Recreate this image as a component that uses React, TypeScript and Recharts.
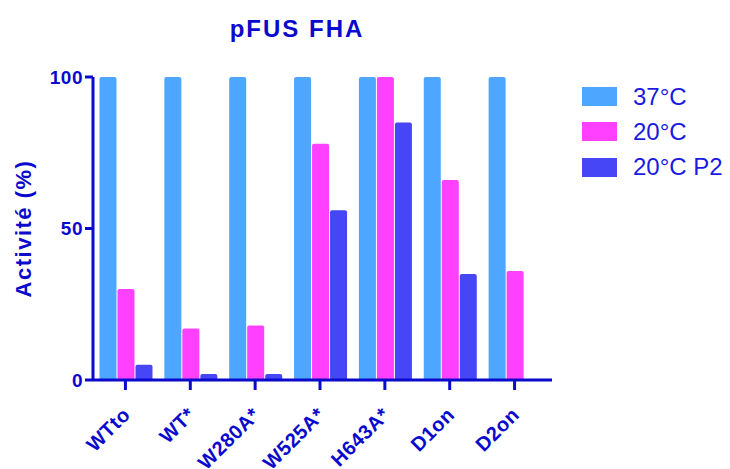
import React from 'react';
import { BarChart, Bar, XAxis, YAxis } from 'recharts';

const categories = ['WTto', 'WT*', 'W280A*', 'W525A*', 'H643A*', 'D1on', 'D2on'];
const s37 = [100, 100, 100, 100, 100, 100, 100];
const s20 = [30, 17, 18, 78, 100, 66, 36];
const s20p2 = [5, 2, 2, 56, 85, 35, 0];
const yTicks = [0, 50, 100];

const SERIES = [
  { key: 's37', name: '37°C', color: '#4da6ff' },
  { key: 's20', name: '20°C', color: '#ff40ff' },
  { key: 's20p2', name: '20°C P2', color: '#4646f6' },
];

const data = categories.map((c, i) => ({ name: c, s37: s37[i], s20: s20[i], s20p2: s20p2[i] }));

const AXIS = '#0a0acc';
const FONT = '"Liberation Sans", Arial, sans-serif';

const XTick = (props: any) => {
  const { x, y, payload } = props;
  return (
    <g transform={`translate(${x + 6},${y + 24})`}>
      <text transform="rotate(-45)" textAnchor="end" fill={AXIS} fontSize={20} fontWeight="bold"
        fontFamily={FONT} letterSpacing={0.5}>
        {payload.value}
      </text>
    </g>
  );
};

export default function App() {
  return (
    <div style={{ position: 'absolute', left: 0, top: 0, width: 730, height: 469, background: '#fff' }}>
      <div style={{ position: 'absolute', left: 197, width: 200, top: 15, textAlign: 'center', fontFamily: FONT,
        fontWeight: 'bold', fontSize: 24, letterSpacing: 2, color: AXIS }}>
        pFUS FHA
      </div>
      <div style={{ position: 'absolute', left: 582, top: 79, fontFamily: FONT }}>
        {SERIES.map(s => (
          <div key={s.key} style={{ display: 'flex', alignItems: 'center', height: 35.3 }}>
            <div style={{ width: 35, height: 19, background: s.color, marginRight: 16 }} />
            <span style={{ color: '#1a1ae0', fontSize: 24 }}>{s.name}</span>
          </div>
        ))}
      </div>
      <BarChart width={730} height={469} data={data} margin={{ top: 77, right: 178, bottom: 59, left: 0 }}
        barCategoryGap="10%" barGap={1} style={{ position: 'absolute', left: 0, top: 0 }}>
        <XAxis dataKey="name" tick={<XTick />} interval={0} axisLine={{ stroke: AXIS, strokeWidth: 3 }}
          tickLine={{ stroke: AXIS, strokeWidth: 3 }} tickSize={10} padding={{ left: 0, right: 5 }} />
        <YAxis domain={[0, 100]} ticks={yTicks} width={93} axisLine={{ stroke: AXIS, strokeWidth: 3 }}
          tickLine={{ stroke: AXIS, strokeWidth: 3 }} tickSize={8}
          tick={{ fill: AXIS, fontSize: 19, fontWeight: 'bold', fontFamily: FONT, letterSpacing: 0.5 }}
          label={{ value: 'Activité (%)', angle: -90, position: 'insideLeft', offset: 23, fill: AXIS, fontSize: 22,
            fontWeight: 'bold', fontFamily: FONT, letterSpacing: 1.5, style: { textAnchor: 'middle' } }} />
        {SERIES.map(s => (
          <Bar key={s.key} dataKey={s.key} name={s.name} fill={s.color} radius={[2, 2, 0, 0]} isAnimationActive={false} />
        ))}
      </BarChart>
    </div>
  );
}
